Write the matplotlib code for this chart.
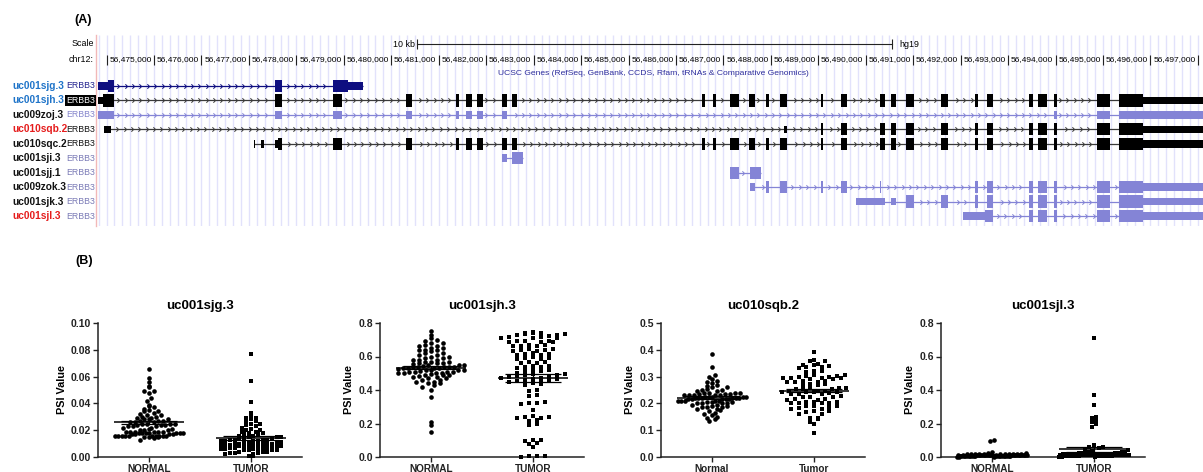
import numpy as np
import matplotlib
matplotlib.use("Agg")
import matplotlib.pyplot as plt
from matplotlib.path import Path

plt.rcParams['font.family'] = ['Liberation Sans', 'DejaVu Sans']

W, H = 1203, 472
fig = plt.figure(figsize=(W / 100, H / 100), dpi=100)


def px_axes(l, t, r, b):
    return fig.add_axes([l / W, 1 - b / H, (r - l) / W, (b - t) / H])


# ---------------------------------------------------------------- data (A)
# genomic positions in kb relative to chr12:56,475,000
CHROM_START = 56475000
TICK_KB = list(range(-1, 23))
SCALE_BAR_KB = 10
SCALE_BAR_CENTER_KB = 10.55

TRACK_NAMES = ["uc001sjg.3", "uc001sjh.3", "uc009zoj.3", "uc010sqb.2", "uc010sqc.2",
               "uc001sji.3", "uc001sjj.1", "uc009zok.3", "uc001sjk.3", "uc001sjl.3"]
GENE_NAME = "ERBB3"
NAME_COLORS = ["#1f74c9", "#1f74c9", "#111111", "#e51c1c", "#111111",
               "#111111", "#111111", "#111111", "#111111", "#e51c1c"]
GENE_COLORS = ["#23238f", "white", "#8585cc", "#111111", "#111111",
               "#7a7ab6", "#7a7ab6", "#7a7ab6", "#7a7ab6", "#7a7ab6"]
TRACK_COLORS = ["#0e0e80", "#000000", "#8484d6", "#000000", "#000000",
                "#8484d6", "#8484d6", "#8484d6", "#8484d6", "#8484d6"]

# exons: (start_kb, end_kb, coding)
tail_exons = [(14.06, 14.10, 1), (14.48, 14.61, 1), (15.30, 15.41, 1), (15.53, 15.64, 1),
              (15.85, 16.02, 1), (16.59, 16.73, 1), (17.30, 17.37, 1), (17.56, 17.68, 1),
              (18.44, 18.53, 1), (18.63, 18.82, 1), (18.97, 19.03, 1), (19.87, 20.15, 1),
              (20.34, 20.84, 1), (20.84, 22.3, 0)]
mid_exons = [(5.31, 5.44, 1), (6.37, 6.43, 1), (6.58, 6.70, 1), (6.81, 6.93, 1),
             (7.33, 7.44, 1), (7.55, 7.65, 1), (11.55, 11.61, 1), (11.78, 11.84, 1),
             (12.14, 12.33, 1), (12.54, 12.67, 1), (12.90, 12.96, 1), (13.19, 13.34, 1)]
sjg_exons = [(-1.18, -0.97, 0), (-0.97, -0.84, 1), (2.55, 2.70, 1), (3.77, 4.09, 1), (4.09, 4.41, 0)]
sjh_exons = [(-1.18, -1.07, 0), (-1.07, -0.84, 1), (2.55, 2.70, 1), (3.77, 3.96, 1)] + mid_exons + tail_exons
zoj_exons = [(-1.18, -0.84, 0), (2.55, 2.70, 0), (3.77, 3.96, 0), (5.31, 5.44, 0), (6.37, 6.43, 0),
             (6.58, 6.70, 0), (6.81, 6.93, 0), (7.33, 7.44, 0), (18.97, 19.03, 0),
             (19.87, 20.15, 0), (20.34, 22.3, 0)]
sqb_exons = [(-1.05, -0.91, 0), (13.27, 13.34, 0)] + tail_exons
sqc_exons = [(2.10, 2.13, 0), (2.26, 2.32, 0), (2.55, 2.61, 0), (2.61, 2.70, 1),
             (3.77, 3.96, 1)] + mid_exons + tail_exons
sji_exons = [(7.33, 7.44, 0), (7.55, 7.78, 1)]
sjj_exons = [(12.14, 12.33, 1), (12.56, 12.79, 1)]
zok_exons = [(12.56, 12.67, 0), (12.90, 12.96, 1), (13.19, 13.34, 1), (14.06, 14.10, 1),
             (14.48, 14.61, 1), (15.30, 15.32, 1), (17.30, 17.37, 1), (17.56, 17.68, 1),
             (18.44, 18.53, 1), (18.63, 18.82, 1), (18.97, 19.03, 1), (19.87, 20.15, 1),
             (20.34, 20.84, 1), (20.84, 22.3, 0)]
sjk_exons = [(14.80, 15.41, 0), (15.53, 15.64, 0), (15.85, 16.02, 1), (16.59, 16.73, 1),
             (17.30, 17.37, 1), (17.56, 17.68, 1), (18.44, 18.53, 1), (18.63, 18.82, 1),
             (18.97, 19.03, 1), (19.87, 20.15, 1), (20.34, 20.84, 1), (20.84, 22.3, 0)]
sjl_exons = [(17.05, 17.51, 0), (17.51, 17.68, 1), (18.44, 18.53, 1), (18.63, 18.82, 1),
             (18.97, 19.03, 1), (19.87, 20.15, 1), (20.34, 20.84, 1), (20.84, 22.3, 0)]
TRACK_EXONS = [sjg_exons, sjh_exons, zoj_exons, sqb_exons, sqc_exons,
               sji_exons, sjj_exons, zok_exons, sjk_exons, sjl_exons]

# ---------------------------------------------------------------- data (B)
P1_TITLE = "uc001sjg.3"
p1_normal = [0.066, 0.059, 0.056, 0.053, 0.052, 0.049, 0.049, 0.048, 0.044, 0.042, 0.039, 0.038,
             0.037, 0.036, 0.035, 0.034, 0.034, 0.033, 0.032, 0.031, 0.031, 0.030, 0.030, 0.029,
             0.029, 0.028, 0.028, 0.028, 0.027, 0.027, 0.027, 0.026, 0.026, 0.026, 0.025, 0.025,
             0.025, 0.025, 0.024, 0.024, 0.024, 0.023, 0.023, 0.023, 0.022, 0.022, 0.021, 0.021,
             0.020, 0.020, 0.020, 0.019, 0.019, 0.019, 0.019, 0.019, 0.019, 0.018, 0.018, 0.018,
             0.018, 0.018, 0.018, 0.018, 0.017, 0.017, 0.017, 0.017, 0.016, 0.016, 0.016, 0.016,
             0.016, 0.016, 0.016, 0.016, 0.016, 0.016, 0.015, 0.015, 0.015, 0.014, 0.013]
p1_tumor = [0.077, 0.057, 0.041, 0.033, 0.031, 0.029, 0.029, 0.028, 0.027, 0.026, 0.025, 0.025,
            0.024, 0.023, 0.022, 0.021, 0.020, 0.020, 0.019, 0.019, 0.018, 0.018, 0.017, 0.017,
            0.016, 0.016, 0.015, 0.015, 0.015, 0.014, 0.014, 0.014, 0.013, 0.013, 0.013, 0.013,
            0.012, 0.012, 0.012, 0.012, 0.011, 0.011, 0.011, 0.011, 0.010, 0.010, 0.010, 0.010,
            0.010, 0.009, 0.009, 0.009, 0.009, 0.009, 0.008, 0.008, 0.008, 0.008, 0.008, 0.008,
            0.007, 0.007, 0.007, 0.007, 0.006, 0.006, 0.006, 0.006, 0.005, 0.005, 0.005, 0.005,
            0.004, 0.004, 0.004, 0.003, 0.003, 0.003, 0.002, 0.002, 0.001, 0.001]
p1_mean = [0.026, 0.014]
p1_sem = [0.0012, 0.0013]

P2_TITLE = "uc001sjh.3"
p2_normal = [0.75, 0.73, 0.71, 0.70, 0.69, 0.68, 0.68, 0.67, 0.66, 0.66, 0.65, 0.65, 0.64, 0.64,
             0.64, 0.63, 0.62, 0.62, 0.61, 0.61, 0.60, 0.60, 0.59, 0.59, 0.58, 0.58, 0.58, 0.57,
             0.57, 0.57, 0.56, 0.56, 0.56, 0.555, 0.55, 0.55, 0.55, 0.545, 0.54, 0.54, 0.54, 0.54,
             0.535, 0.53, 0.53, 0.53, 0.53, 0.525, 0.52, 0.52, 0.52, 0.52, 0.515, 0.51, 0.51,
             0.51, 0.505, 0.50, 0.50, 0.50, 0.50, 0.495, 0.49, 0.49, 0.49, 0.485, 0.48, 0.48,
             0.47, 0.47, 0.46, 0.46, 0.45, 0.45, 0.44, 0.44, 0.43, 0.42, 0.40, 0.36, 0.21, 0.19,
             0.15]
p2_tumor = [0.745, 0.742, 0.740, 0.738, 0.735, 0.733, 0.731, 0.730,
            0.720, 0.718, 0.715, 0.713, 0.711, 0.710,
            0.695, 0.692, 0.690, 0.688, 0.686, 0.684,
            0.670, 0.667, 0.665, 0.662, 0.660,
            0.645, 0.642, 0.640, 0.637, 0.635, 0.632,
            0.620, 0.617, 0.614, 0.611, 0.608,
            0.595, 0.592, 0.589, 0.586, 0.583,
            0.570, 0.567, 0.564, 0.561,
            0.545, 0.542, 0.539, 0.536, 0.533,
            0.520, 0.517, 0.514, 0.511,
            0.500, 0.497, 0.494, 0.491, 0.488, 0.486,
            0.480, 0.477, 0.474, 0.471, 0.468, 0.465,
            0.460, 0.457, 0.454, 0.451, 0.448,
            0.440, 0.435, 0.430,
            0.400, 0.395, 0.370, 0.365, 0.330, 0.325, 0.320, 0.315, 0.280, 0.245, 0.240,
            0.240, 0.235, 0.235, 0.220, 0.215, 0.195, 0.190, 0.100, 0.100, 0.095, 0.085,
            0.080, 0.060, 0.005, 0.004, 0.003, 0.002]
p2_mean = [0.533, 0.472]
p2_sem = [0.010, 0.022]

P3_TITLE = "uc010sqb.2"
p3_normal = [0.385, 0.335, 0.305, 0.300, 0.290, 0.285, 0.280, 0.275, 0.270, 0.265, 0.260, 0.260,
             0.255, 0.250, 0.250, 0.245, 0.245, 0.240, 0.240, 0.240, 0.235, 0.235, 0.235, 0.230,
             0.230, 0.230, 0.230, 0.225, 0.225, 0.225, 0.225, 0.220, 0.220, 0.220, 0.220, 0.220,
             0.215, 0.215, 0.215, 0.215, 0.210, 0.210, 0.210, 0.210, 0.205, 0.205, 0.205, 0.200,
             0.200, 0.200, 0.195, 0.195, 0.190, 0.190, 0.185, 0.185, 0.180, 0.180, 0.175, 0.170,
             0.165, 0.160, 0.155, 0.150, 0.145, 0.140, 0.135, 0.225, 0.220, 0.215, 0.230, 0.210,
             0.240, 0.200, 0.185]
p3_tumor = [0.390,
            0.362, 0.360, 0.358,
            0.347, 0.345, 0.343, 0.341,
            0.336, 0.334, 0.332,
            0.322, 0.320, 0.318,
            0.307, 0.305, 0.303, 0.301, 0.300,
            0.297, 0.296, 0.295, 0.294, 0.293, 0.292, 0.291,
            0.283, 0.282, 0.281, 0.280, 0.279,
            0.272, 0.271, 0.270, 0.269,
            0.258, 0.257, 0.256, 0.255, 0.254, 0.253,
            0.247, 0.246, 0.245, 0.244, 0.243, 0.242, 0.241,
            0.237, 0.236, 0.235, 0.234,
            0.226, 0.225, 0.224, 0.223,
            0.216, 0.215, 0.214, 0.213,
            0.206, 0.205, 0.204, 0.203, 0.202, 0.201, 0.200,
            0.191, 0.190, 0.189, 0.188,
            0.181, 0.180, 0.179,
            0.171, 0.170, 0.169,
            0.161, 0.160,
            0.146, 0.144, 0.142,
            0.130, 0.125,
            0.090]
p3_mean = [0.222, 0.248]
p3_sem = [0.004, 0.007]

P4_TITLE = "uc001sjl.3"
p4_normal = [0.100, 0.095, 0.028, 0.025, 0.022, 0.020, 0.020, 0.019, 0.018, 0.018, 0.017, 0.016,
             0.016, 0.015, 0.015, 0.015, 0.014, 0.014, 0.014, 0.013, 0.013, 0.013, 0.012, 0.012,
             0.012, 0.012, 0.011, 0.011, 0.011, 0.011, 0.010, 0.010, 0.010, 0.010, 0.010, 0.009,
             0.009, 0.009, 0.009, 0.008, 0.008, 0.008, 0.008, 0.007, 0.007, 0.007, 0.007, 0.006,
             0.006, 0.006, 0.006, 0.005, 0.005, 0.005, 0.004, 0.004, 0.004, 0.003, 0.003, 0.002,
             0.002, 0.001]
p4_tumor = [0.710, 0.370, 0.310, 0.240, 0.230, 0.220, 0.210, 0.200, 0.180, 0.070, 0.066, 0.062,
            0.058, 0.052, 0.045, 0.040, 0.035, 0.032, 0.030, 0.028, 0.026, 0.025, 0.024, 0.022,
            0.021, 0.020, 0.020, 0.019, 0.018, 0.018, 0.017, 0.016, 0.016, 0.015, 0.015, 0.014,
            0.014, 0.013, 0.013, 0.012, 0.012, 0.012, 0.011, 0.011, 0.010, 0.010, 0.010, 0.009,
            0.009, 0.009, 0.008, 0.008, 0.008, 0.007, 0.007, 0.006, 0.006, 0.006, 0.005, 0.005,
            0.004, 0.004, 0.003, 0.003, 0.002, 0.002, 0.001]
p4_mean = [0.012, 0.046]
p4_sem = [0.002, 0.014]

GROUP_LABELS_UPPER = ["NORMAL", "TUMOR"]
GROUP_LABELS_MIXED = ["Normal", "Tumor"]

# ---------------------------------------------------------------- panel A
ROW_PX0, ROW_DY = 86.0, 14.45      # pixel y of row 0 and row spacing
AX_T, AX_B = 35, 226
axA = px_axes(96, AX_T, W, AX_B)
px_per_kb = 47.45
x_left = (96 - 154) / px_per_kb
x_right = (W - 154) / px_per_kb
axA.set_xlim(x_left, x_right)
axA.set_ylim((AX_B - ROW_PX0) / ROW_DY, (AX_T - ROW_PX0) / ROW_DY)
for s in ["top", "right", "bottom"]:
    axA.spines[s].set_visible(False)
axA.spines["left"].set_color("#f2b8b8")
axA.spines["left"].set_linewidth(1.0)
axA.set_xticks([])
axA.set_yticks([])

# guidelines
guides = np.arange(-7 / 6, x_right, 1 / 6)
axA.vlines(guides, *axA.get_ylim(), colors="#e2e2fb", linewidth=1.0, zorder=0)


def row_of(px):
    return (px - ROW_PX0) / ROW_DY


BFS = 6.0  # browser font size
r_scale = row_of(44)
r_chr = row_of(60)
sb0 = SCALE_BAR_CENTER_KB - SCALE_BAR_KB / 2
sb1 = SCALE_BAR_CENTER_KB + SCALE_BAR_KB / 2
axA.plot([sb0, sb1], [r_scale, r_scale], color="#222222", lw=0.8, clip_on=False)
axA.vlines([sb0, sb1], r_scale - 0.35, r_scale + 0.35, colors="#222222", lw=0.8)
axA.text(sb0 - 0.04, r_scale, f"{SCALE_BAR_KB} kb", ha="right", va="center", fontsize=BFS + 0.4)
axA.text(sb1 + 0.15, r_scale, "hg19", ha="left", va="center", fontsize=BFS + 0.4)

axA.vlines(TICK_KB, r_chr - 0.38, r_chr + 0.38, colors="#222222", lw=0.8)
for kb in TICK_KB:
    if kb >= 0:
        axA.text(kb - 0.05, r_chr, f"{CHROM_START + kb * 1000:,}", ha="right", va="center",
                 fontsize=BFS)

axA.text((x_left + x_right) / 2 + 0.09, row_of(73),
         "UCSC Genes (RefSeq, GenBank, CCDS, Rfam, tRNAs & Comparative Genomics)",
         ha="center", va="center", fontsize=BFS + 0.1, color="#2c2c9c")

fig.text(94 / W, 1 - 44 / H, "Scale", ha="right", va="center", fontsize=BFS + 0.4)
fig.text(94 / W, 1 - 60 / H, "chr12:", ha="right", va="center", fontsize=BFS + 0.4)

chev = Path([(-0.5, 1.0), (0.5, 0.0), (-0.5, -1.0)], [Path.MOVETO, Path.LINETO, Path.LINETO])

for i, (name, exons) in enumerate(zip(TRACK_NAMES, TRACK_EXONS)):
    col = TRACK_COLORS[i]
    lcol = "#3a3a3a" if col == "#000000" else col
    starts = np.array([e[0] for e in exons])
    ends = np.array([e[1] for e in exons])
    coding = np.array([e[2] for e in exons]).astype(bool)
    t0, t1 = starts.min(), ends.max()
    axA.hlines(i, t0, t1, colors=lcol, lw=0.9, zorder=2)
    cx = np.arange(t0 + 0.12, t1, 0.155)
    keep = np.ones(len(cx), bool)
    for s, e in zip(starts, ends):
        keep &= ~((cx > s - 0.06) & (cx < e + 0.06))
    axA.plot(cx[keep], np.full(keep.sum(), i), linestyle="none", marker=chev, ms=3.2,
             mfc="none", mec=lcol, mew=0.7, zorder=2)
    heights = np.where(coding, 0.85, 0.52)
    axA.barh(np.full(len(starts), i), ends - starts, left=starts, height=heights,
             color=col, linewidth=0, zorder=3)
    fig.text(12 / W, 1 - (ROW_PX0 + i * ROW_DY) / H, name, ha="left", va="center",
             fontsize=7.3, fontweight="bold", color=NAME_COLORS[i])
    kw = dict(ha="right", va="center", fontsize=6.3, color=GENE_COLORS[i])
    if i == 1:
        kw["bbox"] = dict(facecolor="black", edgecolor="none", pad=0.5)
    fig.text(95 / W, 1 - (ROW_PX0 + i * ROW_DY) / H, GENE_NAME, **kw)

fig.text(74 / W, 1 - 20 / H, "(A)", ha="left", va="center", fontsize=9, fontweight="bold")
fig.text(75 / W, 1 - 261 / H, "(B)", ha="left", va="center", fontsize=9, fontweight="bold")

# ---------------------------------------------------------------- panel B


def swarm_x(vals, center, bin_h, dx, max_w=0.70):
    vals = np.asarray(vals, float)
    bins = np.round(vals / bin_h).astype(int)
    xs = np.zeros_like(vals)
    for b in np.unique(bins):
        idx = np.where(bins == b)[0]
        idx = idx[np.argsort(vals[idx])]
        n = len(idx)
        step = min(dx, max_w / max(n, 1))
        order = np.argsort(np.argsort(np.arange(n) % 2 * 1000 + np.arange(n)))
        offs = (order - (n - 1) / 2) * step
        xs[idx] = center + offs
    return xs


panels = [
    (P1_TITLE, p1_normal, p1_tumor, p1_mean, p1_sem, 0.10, 0.02, "{:.2f}", GROUP_LABELS_UPPER,
     (98, 302), (0.046, 0.046)),
    (P2_TITLE, p2_normal, p2_tumor, p2_mean, p2_sem, 0.8, 0.2, "{:.1f}", GROUP_LABELS_UPPER,
     (380, 584), (0.058, 0.078)),
    (P3_TITLE, p3_normal, p3_tumor, p3_mean, p3_sem, 0.5, 0.1, "{:.1f}", GROUP_LABELS_MIXED,
     (661, 865), (0.05, 0.075)),
    (P4_TITLE, p4_normal, p4_tumor, p4_mean, p4_sem, 0.8, 0.2, "{:.1f}", GROUP_LABELS_UPPER,
     (941, 1145), (0.046, 0.046)),
]

for title, normal, tumor, means, sems, ymax, ystep, fmt, xlabels, (l, r), (dxn, dxt) in panels:
    ax = px_axes(l, 323, r, 457)
    ax.set_xlim(-0.5, 1.5)
    ax.set_ylim(0, ymax)
    bin_h = ymax / 134 * 4.5
    ax.scatter(swarm_x(normal, 0, bin_h, dxn), normal, marker="o", s=11, c="black",
               linewidths=0, zorder=3, clip_on=False)
    ax.scatter(swarm_x(tumor, 1, bin_h, dxt), tumor, marker="s", s=9.5, c="black",
               linewidths=0, zorder=3, clip_on=False)
    for k in range(2):
        ax.hlines(means[k], k - 0.34, k + 0.34, colors="black", lw=1.1, zorder=4)
        ax.hlines([means[k] - sems[k], means[k] + sems[k]], k - 0.27, k + 0.27,
                  colors="black", lw=0.9, zorder=4)
        ax.vlines(k, means[k] - sems[k], means[k] + sems[k], colors="black", lw=0.9, zorder=4)
    yt = np.arange(0, ymax + ystep / 2, ystep)
    ax.set_yticks(yt)
    ax.set_yticklabels([fmt.format(v) for v in yt], fontsize=7.5, fontweight="bold")
    ax.set_xticks([0, 1])
    ax.set_xticklabels(xlabels, fontsize=7.2, fontweight="bold")
    ax.tick_params(axis="both", direction="out", length=3.5, width=1.0, pad=1.5,
                   color="#222222", labelcolor="#222222")
    for s in ["top", "right"]:
        ax.spines[s].set_visible(False)
    for s in ["left", "bottom"]:
        ax.spines[s].set_linewidth(1.1)
        ax.spines[s].set_color("#222222")
    ax.set_ylabel("PSI Value", fontsize=7.8, fontweight="bold", labelpad=3)
    ax.set_title(title, fontsize=9.5, fontweight="bold", pad=10)

fig.savefig("out.png", dpi=100)
